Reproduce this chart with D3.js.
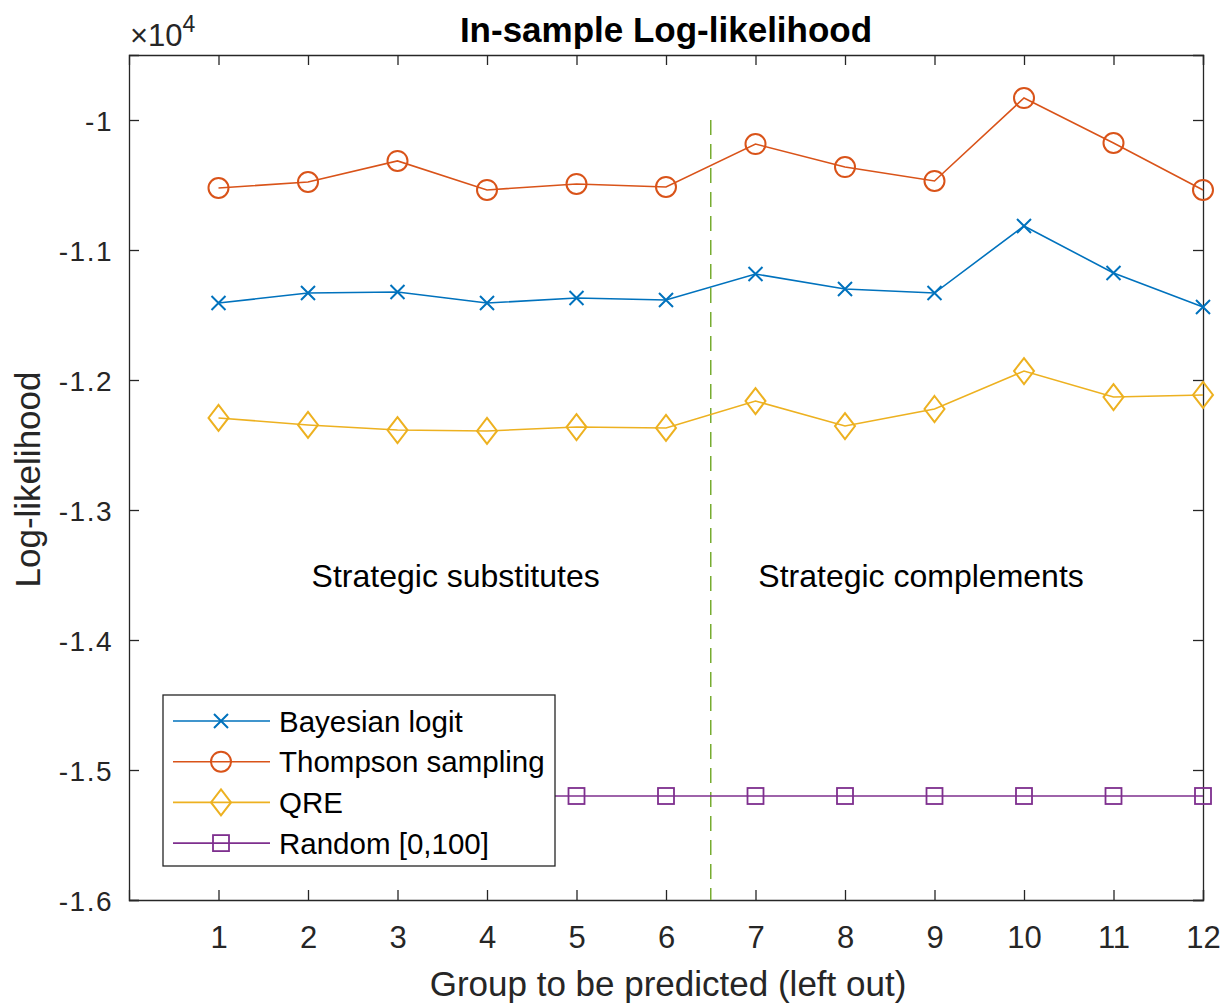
<!DOCTYPE html>
<html>
<head>
  <style>
    body {
      margin: 0;
      padding: 0;
      background: #fff;
      font-family: "Liberation Sans", Arial, sans-serif;
    }
  </style>
</head>
<body>
  <div id="chart"></div>

  <script src="https://cdnjs.cloudflare.com/ajax/libs/d3/7.8.5/d3.min.js"></script>
  <script>
    // data, values in units of 10^4
    const groups = [1, 2, 3, 4, 5, 6, 7, 8, 9, 10, 11, 12];
    const bayesianLogit = [-1.1408, -1.1331, -1.1323, -1.1408, -1.1369, -1.1385, -1.1185, -1.1300, -1.1331, -1.0815, -1.1177, -1.1438];
    const thompson = [-1.0523, -1.0477, -1.0315, -1.0538, -1.0492, -1.0515, -1.0185, -1.0362, -1.0469, -0.9831, -1.0177, -1.0538];
    const qre = [-1.2292, -1.2346, -1.2385, -1.2392, -1.2362, -1.2369, -1.2162, -1.2354, -1.2223, -1.1931, -1.2131, -1.2115];
    const randomBaseline = [-1.52, -1.52, -1.52, -1.52, -1.52, -1.52, -1.52, -1.52, -1.52, -1.52, -1.52, -1.52];
    const yTicks = [-1.6, -1.5, -1.4, -1.3, -1.2, -1.1, -1];
    const splitAt = 6.5;

    const series = [
      { name: 'Bayesian logit', values: bayesianLogit, color: '#0072BD', marker: 'x' },
      { name: 'Thompson sampling', values: thompson, color: '#D95319', marker: 'o' },
      { name: 'QRE', values: qre, color: '#EDB120', marker: 'd' },
      { name: 'Random [0,100]', values: randomBaseline, color: '#7E2F8E', marker: 's' }
    ];

    const width = 1224, height = 1005;
    const margin = { left: 129, right: 21, top: 55, bottom: 105 };
    const iw = width - margin.left - margin.right;
    const ih = height - margin.top - margin.bottom;

    const svg = d3.select('#chart').append('svg')
      .attr('width', width)
      .attr('height', height);

    const g = svg.append('g')
      .attr('transform', `translate(${margin.left},${margin.top})`);

    const x = d3.scaleLinear().domain([0, 12]).range([0, iw]);
    const y = d3.scaleLinear().domain([-1.6, -0.95]).range([ih, 0]);

    const axisColor = '#262626';
    const tickLen = 10;

    // axes box with inward ticks
    const axBottom = g.append('g').attr('transform', `translate(0,${ih})`)
      .call(d3.axisBottom(x).tickValues(groups).tickSize(-tickLen).tickPadding(26).tickFormat(d3.format('d')));
    const axTop = g.append('g')
      .call(d3.axisTop(x).tickValues(groups).tickSize(-tickLen).tickFormat(''));
    const axLeft = g.append('g')
      .call(d3.axisLeft(y).tickValues(yTicks).tickSize(-tickLen).tickPadding(16).tickFormat(d => d3.format('.1f')(d).replace('.0', '').replace('−', '-')));
    const axRight = g.append('g').attr('transform', `translate(${iw},0)`)
      .call(d3.axisRight(y).tickValues(yTicks).tickSize(-tickLen).tickFormat(''));

    [axBottom, axTop, axLeft, axRight].forEach(a => {
      a.select('.domain').attr('stroke', axisColor).attr('stroke-width', 1.3);
      a.selectAll('.tick line').attr('stroke', axisColor).attr('stroke-width', 1.3);
      a.selectAll('.tick text')
        .attr('fill', '#262626')
        .attr('font-family', '"Liberation Sans", Arial, sans-serif');
    });
    axLeft.selectAll('.tick text').attr('dy', '0.36em')
      .attr('font-size', 28).attr('letter-spacing', 1.5);
    axBottom.selectAll('.tick text').attr('dy', '0.71em')
      .attr('font-size', 31);

    // split line between the two treatments
    g.append('line')
      .attr('x1', x(splitAt)).attr('x2', x(splitAt))
      .attr('y1', y(-1)).attr('y2', y(-1.6))
      .attr('stroke', '#77AC30')
      .attr('stroke-width', 1.5)
      .attr('stroke-dasharray', '15,9');

    // marker drawing
    function drawMarker(sel, type, color) {
      if (type === 'x') {
        sel.append('path').attr('d', 'M-7,-7L7,7M-7,7L7,-7')
          .attr('stroke', color).attr('stroke-width', 2).attr('fill', 'none');
      } else if (type === 'o') {
        sel.append('circle').attr('r', 10)
          .attr('stroke', color).attr('stroke-width', 2).attr('fill', 'none');
      } else if (type === 'd') {
        sel.append('path').attr('d', 'M0,-13L10,0L0,13L-10,0Z')
          .attr('stroke', color).attr('stroke-width', 2).attr('fill', 'none');
      } else if (type === 's') {
        sel.append('rect').attr('x', -8).attr('y', -8).attr('width', 16).attr('height', 16)
          .attr('stroke', color).attr('stroke-width', 1.8).attr('fill', 'none');
      }
    }

    const line = d3.line()
      .x((d, i) => x(groups[i]))
      .y(d => y(d));

    series.forEach(s => {
      g.append('path')
        .datum(s.values)
        .attr('d', line)
        .attr('fill', 'none')
        .attr('stroke', s.color)
        .attr('stroke-width', 1.6);

      g.selectAll(null)
        .data(s.values)
        .enter()
        .append('g')
        .attr('transform', (d, i) => `translate(${x(groups[i])},${y(d)})`)
        .each(function() { drawMarker(d3.select(this), s.marker, s.color); });
    });

    // annotations
    g.append('text')
      .attr('x', x(3.65)).attr('y', y(-1.35)).attr('dy', '0.36em')
      .attr('text-anchor', 'middle')
      .attr('font-size', 32)
      .attr('fill', '#000')
      .text('Strategic substitutes');
    g.append('text')
      .attr('x', x(8.85)).attr('y', y(-1.35)).attr('dy', '0.36em')
      .attr('text-anchor', 'middle')
      .attr('font-size', 32)
      .attr('fill', '#000')
      .text('Strategic complements');

    // legend
    const legend = g.append('g').attr('transform', `translate(${163 - margin.left},${695 - margin.top})`);
    legend.append('rect')
      .attr('width', 392).attr('height', 171)
      .attr('fill', '#fff')
      .attr('stroke', axisColor)
      .attr('stroke-width', 1.3);
    series.forEach((s, i) => {
      const row = legend.append('g').attr('transform', `translate(0,${26 + i * 40.7})`);
      row.append('line')
        .attr('x1', 10).attr('x2', 107)
        .attr('stroke', s.color).attr('stroke-width', 1.6);
      const m = row.append('g').attr('transform', 'translate(58,0)');
      drawMarker(m, s.marker, s.color);
      row.append('text')
        .attr('x', 116).attr('dy', '0.36em')
        .attr('font-size', 29.5)
        .attr('fill', '#000')
        .text(s.name);
    });

    // titles
    svg.append('text')
      .attr('x', margin.left + iw / 2).attr('y', 42)
      .attr('text-anchor', 'middle')
      .attr('font-size', 35)
      .attr('font-weight', 'bold')
      .attr('fill', '#000')
      .text('In-sample Log-likelihood');

    svg.append('text')
      .attr('x', margin.left + iw / 2 + 2).attr('y', 996)
      .attr('text-anchor', 'middle')
      .attr('font-size', 35)
      .attr('fill', '#262626')
      .text('Group to be predicted (left out)');

    svg.append('text')
      .attr('transform', `translate(40,${margin.top + ih / 2 + 2}) rotate(-90)`)
      .attr('text-anchor', 'middle')
      .attr('font-size', 35)
      .attr('fill', '#262626')
      .text('Log-likelihood');

    const exp = svg.append('text')
      .attr('x', 130).attr('y', 46)
      .attr('font-size', 31)
      .attr('fill', '#262626');
    exp.append('tspan').text('\u00d710');
    exp.append('tspan').attr('dy', -14).attr('font-size', 23).text('4');
  </script>
</body>
</html>
